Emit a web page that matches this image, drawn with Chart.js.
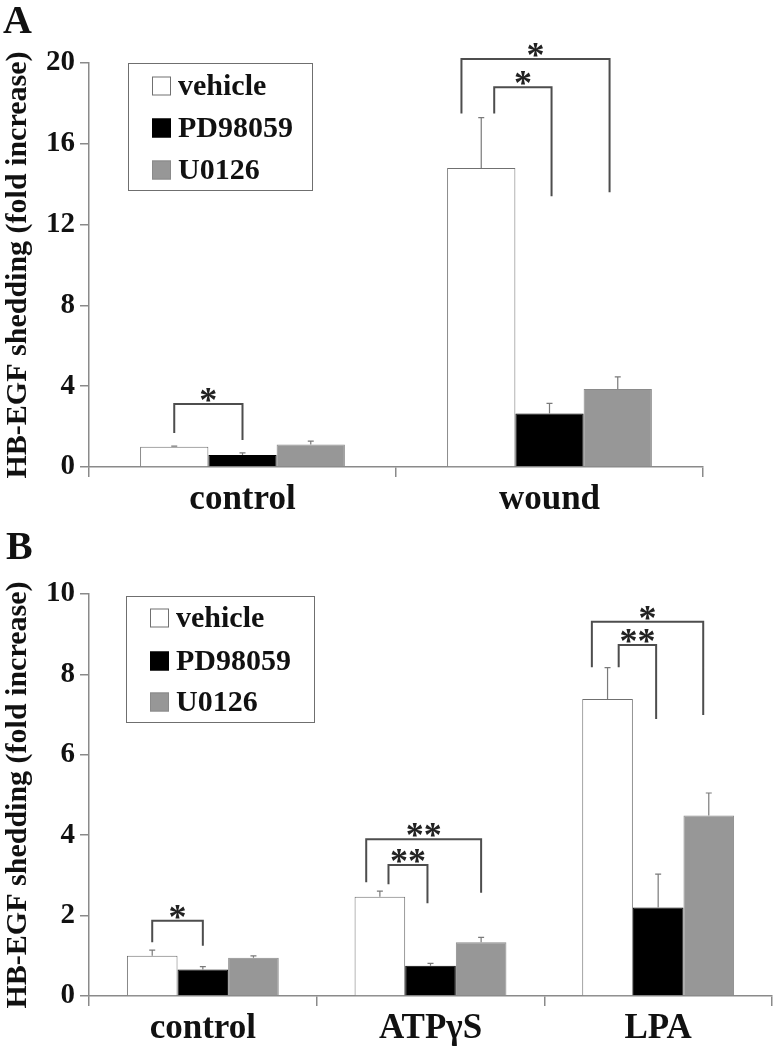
<!DOCTYPE html>
<html>
<head>
<meta charset="utf-8">
<script src="https://cdn.jsdelivr.net/npm/chart.js@4.4.1/dist/chart.umd.min.js"></script>
<style>
  body { margin: 0; background: #fff; }
  canvas { display: block; }
</style>
</head>
<body>
<canvas id="chartA" width="776" height="520"></canvas>
<canvas id="chartB" width="776" height="530"></canvas>
<script>
/* ---------- data ---------- */
const SERIES = ['vehicle', 'PD98059', 'U0126'];
const Y_TITLE = 'HB-EGF shedding (fold increase)';

// panel A
const catsA = ['control', 'wound'];
const vehicleA = [1.0, 14.8];
const vehicleErrA = [0.03, 2.5];
const pdA = [0.6, 2.65];
const pdErrA = [0.1, 0.5];
const u0126A = [1.12, 3.86];
const u0126ErrA = [0.16, 0.6];
const yTicksA = [0, 4, 8, 12, 16, 20];
// significance brackets: bar heights of left leg, crossbar, right leg
const sigA = [
  { cat: 0, from: 0, to: 1, left: 1.68, top: 3.12, right: 1.34, mark: '*' },
  { cat: 1, from: 0, to: 1, left: 17.5, top: 18.8, right: 13.4, mark: '*' },
  { cat: 1, from: 0, to: 2, left: 17.5, top: 20.2, right: 13.6, mark: '*' }
];

// panel B
const catsB = ['control', 'ATPγS', 'LPA'];
const vehicleB = [1.0, 2.47, 7.39];
const vehicleErrB = [0.14, 0.14, 0.78];
const pdB = [0.66, 0.75, 2.2];
const pdErrB = [0.07, 0.06, 0.83];
const u0126B = [0.95, 1.34, 4.49];
const u0126ErrB = [0.05, 0.12, 0.56];
const yTicksB = [0, 2, 4, 6, 8, 10];
const sigB = [
  { cat: 0, from: 0, to: 1, left: 1.34, top: 1.87, right: 1.25, mark: '*' },
  { cat: 1, from: 0, to: 1, left: 2.78, top: 3.26, right: 2.31, mark: '**' },
  { cat: 1, from: 0, to: 2, left: 2.83, top: 3.90, right: 2.57, mark: '**' },
  { cat: 2, from: 0, to: 1, left: 8.18, top: 8.73, right: 6.89, mark: '**' },
  { cat: 2, from: 0, to: 2, left: 8.18, top: 9.31, right: 6.99, mark: '*' }
];

/* ---------- styles ---------- */
const FILL = ['#ffffff', '#000000', '#979797'];
const EDGE = ['#707070', '#000000', '#8a8a8a'];
const AXIS = '#8a8a8a';
const INK = '#111111';
const SERIF = '"Liberation Serif", "Times New Roman", serif';

// horizontal shift of bracket legs, as a fraction of bar width
const nudgeA = [[0, 0], [0.19, 0.03], [-0.29, -0.12]];
const nudgeB = [[0, 0], [0.17, -0.06], [-0.27, 0], [0.22, -0.04], [-0.31, -0.11]];

const decor = {
  id: 'decor',
  afterDraw(chart, args, o) {
    const ctx = chart.ctx, ys = chart.scales.y;
    ctx.save();

    // error bars (upper only)
    ctx.strokeStyle = '#7a7a7a';
    ctx.lineWidth = 1.2;
    chart.data.datasets.forEach((ds, i) => {
      chart.getDatasetMeta(i).data.forEach((bar, j) => {
        const yT = ys.getPixelForValue(ds.data[j] + ds.err[j]);
        ctx.beginPath();
        ctx.moveTo(bar.x, bar.y); ctx.lineTo(bar.x, yT);
        ctx.moveTo(bar.x - 3, yT); ctx.lineTo(bar.x + 3, yT);
        ctx.stroke();
      });
    });

    // significance brackets
    o.sig.forEach((s, k) => {
      const a = chart.getDatasetMeta(s.from).data[s.cat];
      const b = chart.getDatasetMeta(s.to).data[s.cat];
      const xa = a.x + o.nudge[k][0] * a.width;
      const xb = b.x + o.nudge[k][1] * b.width;
      const y0 = ys.getPixelForValue(s.left);
      const y1 = ys.getPixelForValue(s.top);
      const y2 = ys.getPixelForValue(s.right);
      ctx.strokeStyle = '#4d4d4d';
      ctx.lineWidth = 2;
      ctx.beginPath();
      ctx.moveTo(xa, y0); ctx.lineTo(xa, y1); ctx.lineTo(xb, y1); ctx.lineTo(xb, y2);
      ctx.stroke();
      ctx.font = 'bold 36px ' + SERIF;
      ctx.textAlign = 'center';
      ctx.textBaseline = 'alphabetic';
      ctx.letterSpacing = '0px';
      ctx.fillStyle = '#222';
      ctx.fillText(s.mark, (xa + xb) / 2, y1 + 8);
    });

    // legend box
    const L = o.legend;
    ctx.strokeStyle = '#6f6f6f';
    ctx.lineWidth = 1;
    ctx.strokeRect(L.x + 0.5, L.y + 0.5, L.w, L.h);
    ctx.font = 'bold 30px ' + SERIF;
    ctx.textAlign = 'left';
    ctx.textBaseline = 'middle';
    chart.data.datasets.forEach((ds, i) => {
      const cy = L.y + L.rows[i];
      ctx.fillStyle = ds.backgroundColor;
      ctx.fillRect(L.x + 24, cy - 9.5, 19, 19);
      ctx.strokeStyle = ds.borderColor;
      ctx.strokeRect(L.x + 24.5, cy - 9, 18, 18);
      ctx.fillStyle = INK;
      ctx.fillText(ds.label, L.x + 50, cy + 1);
    });

    // panel letter
    ctx.font = 'bold 40px ' + SERIF;
    ctx.textBaseline = 'alphabetic';
    ctx.fillText(o.letter, o.lx, o.ly);
    ctx.restore();
  }
};

function panel(id, P) {
  return new Chart(document.getElementById(id), {
    type: 'bar',
    data: {
      labels: P.cats,
      datasets: SERIES.map((name, i) => ({
        label: name, data: P.vals[i], err: P.errs[i],
        backgroundColor: FILL[i], borderColor: EDGE[i], borderWidth: 1,
        categoryPercentage: 0.667, barPercentage: 1.0
      }))
    },
    options: {
      responsive: false, animation: false,
      layout: { padding: { left: 0, top: P.top, right: P.right, bottom: 0 } },
      plugins: {
        legend: { display: false }, tooltip: { enabled: false },
        decor: { sig: P.sig, nudge: P.nudge, legend: P.legend, letter: P.letter, lx: P.lx, ly: P.ly }
      },
      scales: {
        x: {
          grid: { offset: true, drawOnChartArea: false, tickLength: 10, color: AXIS, lineWidth: 1.5 },
          border: { color: AXIS, width: 1.5 },
          ticks: { color: INK, font: { family: SERIF, size: 35, weight: 'bold' }, padding: 2, maxRotation: 0, autoSkip: false },
          afterFit: s => { s.height = P.xHeight; }
        },
        y: {
          min: 0, max: P.yTicks[P.yTicks.length - 1],
          afterBuildTicks: s => { s.ticks = P.yTicks.map(v => ({ value: v })); },
          grid: { drawOnChartArea: false, tickLength: 9, color: AXIS, lineWidth: 1.5 },
          border: { color: AXIS, width: 1.5 },
          ticks: { color: INK, font: { family: SERIF, size: 29, weight: 'bold' }, padding: 5 },
          title: { display: true, text: Y_TITLE, color: INK, padding: 0,
                   font: { family: SERIF, size: 30, weight: 'bold' } },
          afterFit: s => { s.width = 89; }
        }
      }
    },
    plugins: [decor]
  });
}

panel('chartA', {
  cats: catsA,
  vals: [vehicleA, pdA, u0126A], errs: [vehicleErrA, pdErrA, u0126ErrA],
  yTicks: yTicksA, sig: sigA, nudge: nudgeA,
  top: 63, right: 73, xHeight: 53,
  legend: { x: 128, y: 63, w: 184, h: 127, rows: [23, 65, 107] },
  letter: 'A', lx: 3, ly: 33
});

panel('chartB', {
  cats: catsB,
  vals: [vehicleB, pdB, u0126B], errs: [vehicleErrB, pdErrB, u0126ErrB],
  yTicks: yTicksB, sig: sigB, nudge: nudgeB,
  top: 74, right: 4, xHeight: 54,
  legend: { x: 126, y: 76, w: 188, h: 126, rows: [22, 65, 106] },
  letter: 'B', lx: 6, ly: 39
});
</script>
</body>
</html>
